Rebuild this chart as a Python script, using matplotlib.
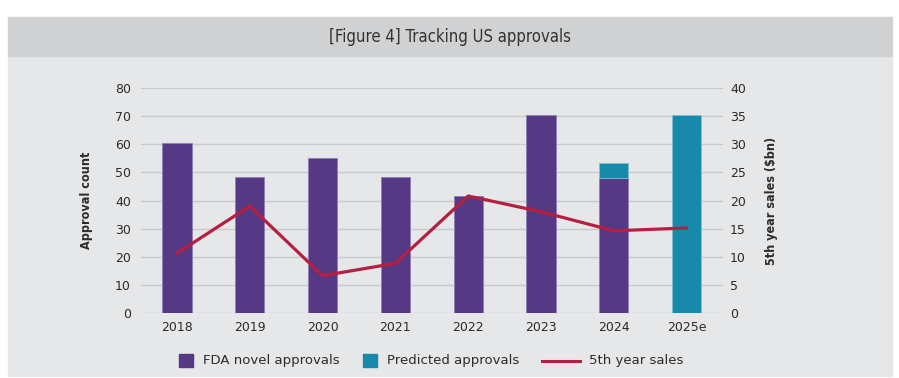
import matplotlib
matplotlib.use("Agg")
import matplotlib.pyplot as plt
from matplotlib.patches import Rectangle
from matplotlib.lines import Line2D
import numpy as np

# data
years = ['2018', '2019', '2020', '2021', '2022', '2023', '2024', '2025e']
fda_approvals = [60.5, 48.5, 55.3, 48.5, 41.6, 70.4, 48.0, 0]
predicted = [0, 0, 0, 0, 0, 0, 5.3, 70.4]
sales_5yr = [10.6, 19.0, 6.6, 8.8, 20.8, 18.0, 14.6, 15.1]

purple = '#553984'
teal = '#178aab'
crimson = '#b51f41'
txt = '#2b2b2b'
narrow = ['Liberation Sans Narrow', 'DejaVu Sans']

W, H = 899, 378
fig = plt.figure(figsize=(W / 100, H / 100), dpi=100)
fig.patch.set_facecolor('white')

# panel background + header band
fig.patches.append(Rectangle((8 / W, 1 - 376 / H), 884 / W, 320 / H,
                             transform=fig.transFigure, color='#e6e7e9', zorder=-5))
fig.patches.append(Rectangle((8 / W, 1 - 56 / H), 884 / W, 39 / H,
                             transform=fig.transFigure, color='#d0d1d3', zorder=-5))
fig.text(450 / W, 1 - 37 / H, '[Figure 4] Tracking US approvals', ha='center', va='center',
         fontsize=12, color='#333333', family=narrow, stretch='condensed')

ax = fig.add_axes([140.6 / W, 1 - 312.7 / H, 582.4 / W, 224.4 / H])
ax.set_facecolor('none')
x = np.arange(len(years))
ax.bar(x, fda_approvals, width=0.4, color=purple, edgecolor='#8f7fb3',
       linewidth=[0.6 if v > 0 else 0 for v in fda_approvals], zorder=2)
ax.bar(x, predicted, width=0.4, bottom=fda_approvals, color=teal, edgecolor='#7fbfd2',
       linewidth=[0.6 if v > 0 else 0 for v in predicted], zorder=2)
ax.set_xlim(-0.5, 7.5)
ax.set_ylim(0, 80)
ax.set_yticks(range(0, 81, 10))
ax.set_xticks(x)
ax.set_xticklabels(years)
ax.grid(axis='y', color='#c8c9cb', linewidth=1.0, zorder=0)
ax.set_axisbelow(True)
for s in ax.spines.values():
    s.set_visible(False)
ax.tick_params(length=0, labelsize=9, colors=txt)
ax.tick_params(axis='y', pad=7)
ax.tick_params(axis='x', pad=6)
ax.set_ylabel('Approval count', fontsize=9, fontweight='bold', color=txt, family=narrow,
              stretch='condensed', labelpad=16)

ax2 = ax.twinx()
ax2.plot(x, sales_5yr, color=crimson, linewidth=2.3, zorder=3)
ax2.set_ylim(0, 40)
ax2.set_yticks(range(0, 41, 5))
for s in ax2.spines.values():
    s.set_visible(False)
ax2.tick_params(length=0, labelsize=9, colors=txt, pad=5)
ax2.set_ylabel('5th year sales ($bn)', fontsize=9, fontweight='bold', color=txt, family=narrow,
               stretch='condensed', labelpad=14)

# legend drawn by hand to match spacing
ly = 1 - 360.5 / H
fig.patches.append(Rectangle((179 / W, ly - 6.5 / H), 14 / W, 13 / H, transform=fig.transFigure,
                             color=purple, zorder=3))
fig.text(203 / W, ly, 'FDA novel approvals', va='center', fontsize=9.5, color=txt)
fig.patches.append(Rectangle((363 / W, ly - 6.5 / H), 14 / W, 13 / H, transform=fig.transFigure,
                             color=teal, zorder=3))
fig.text(387 / W, ly, 'Predicted approvals', va='center', fontsize=9.5, color=txt)
fig.lines.append(Line2D([542 / W, 580 / W], [ly, ly], transform=fig.transFigure,
                        color=crimson, linewidth=2.2))
fig.text(589 / W, ly, '5th year sales', va='center', fontsize=9.5, color=txt)

fig.savefig('out.png', dpi=100)
